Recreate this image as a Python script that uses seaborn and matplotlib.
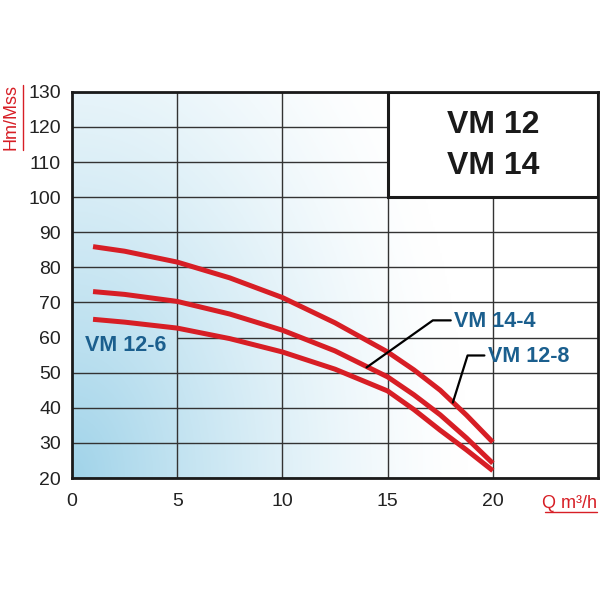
import numpy as np
import pandas as pd
import matplotlib
matplotlib.use("Agg")
import matplotlib.pyplot as plt
import seaborn as sns
from matplotlib.patches import Rectangle
from matplotlib.lines import Line2D

# flow (m3/h) and head (m)
flow = [1, 2.5, 5, 7.5, 10, 12.5, 15, 16.25, 17.5, 18.75, 20]
head_vm12_8 = [85.9, 84.6, 81.5, 77.0, 71.4, 64.2, 55.9, 50.8, 45.0, 37.9, 30.2]
head_vm14_4 = [73.1, 72.3, 70.3, 66.7, 62.1, 56.2, 48.8, 43.7, 38.0, 31.4, 24.2]
head_vm12_6 = [65.2, 64.4, 62.7, 59.7, 55.9, 51.0, 44.8, 39.5, 33.6, 28.0, 22.1]
models = ["VM 12-8", "VM 14-4", "VM 12-6"]

x_ticks = [0, 5, 10, 15, 20]
y_ticks = [20, 30, 40, 50, 60, 70, 80, 90, 100, 110, 120, 130]

sns.set_style("white")
plt.rcParams["font.family"] = ["Liberation Sans", "DejaVu Sans"]

RED = "#d71e25"
BLUE = "#1b5f8e"
GRID = "#333333"

df = pd.DataFrame({
    "Q": flow * 3,
    "H": head_vm12_8 + head_vm14_4 + head_vm12_6,
    "model": [m for m in models for _ in flow],
})

fig = plt.figure(figsize=(6, 6), dpi=100)
ax = fig.add_axes([0.12, 0.2033, 0.8767, 0.6437])
ax.set_xlim(0, 25)
ax.set_ylim(20, 130)

# light blue gradient from bottom-left corner
u, v = np.meshgrid(np.linspace(0, 1, 300), np.linspace(0, 1, 300))
t = np.sqrt((u / 0.75) ** 2 + (v / 1.6) ** 2)
mix = (1 - np.clip(t, 0, 1)) ** 1.4
blue = np.array([160, 211, 233]) / 255
img = 1 - mix[..., None] * (1 - blue)
ax.imshow(img, extent=[0, 25, 20, 130], origin="lower", aspect="auto", zorder=0)

# grid
for x in x_ticks[1:]:
    ax.axvline(x, color=GRID, lw=1.0, zorder=1)
for y in y_ticks:
    if y == 60:
        ax.axhline(y, xmin=0.2, color=GRID, lw=1.0, zorder=1)
    else:
        ax.axhline(y, color=GRID, lw=1.0, zorder=1)

sns.lineplot(data=df, x="Q", y="H", hue="model", palette=[RED] * 3,
             linewidth=3.6, legend=False, ax=ax, zorder=4)
for ln in ax.get_lines():
    ln.set_solid_capstyle("butt")
    ln.set_solid_joinstyle("round")

# title box
ax.add_patch(Rectangle((15, 100), 10, 30, facecolor="white", edgecolor="#1a1a1a",
                       lw=2.2, zorder=3))
ax.text(20, 120.6, "VM 12", ha="center", va="center", fontsize=23,
        fontweight="bold", color="#1a1a1a", zorder=5)
ax.text(20, 108.9, "VM 14", ha="center", va="center", fontsize=23,
        fontweight="bold", color="#1a1a1a", zorder=5)

# curve labels with leaders
ax.plot([18.0, 17.15, 14.0], [64.9, 64.9, 51.5], color="black", lw=1.6, zorder=5)
ax.plot([19.6, 18.8, 18.1], [54.9, 54.9, 41.5], color="black", lw=1.6, zorder=5)
ax.text(18.15, 64.6, "VM 14-4", ha="left", va="center", fontsize=15.5,
        fontweight="bold", color=BLUE, zorder=5)
ax.text(19.75, 54.6, "VM 12-8", ha="left", va="center", fontsize=15.5,
        fontweight="bold", color=BLUE, zorder=5)
ax.text(0.62, 57.8, "VM 12-6", ha="left", va="center", fontsize=15.5,
        fontweight="bold", color=BLUE, zorder=5)

ax.set_xticks(x_ticks)
ax.set_yticks(y_ticks)
ax.tick_params(length=0, labelsize=14, labelcolor="#222222")
ax.tick_params(axis="x", pad=11)
ax.tick_params(axis="y", pad=8)
ax.set_xlabel("")
ax.set_ylabel("")
for s in ax.spines.values():
    s.set_visible(True)
    s.set_color("#1a1a1a")
    s.set_linewidth(2.0)
    s.set_zorder(6)

# axis titles (underlined, red)
fig.text(11 / 600, 1 - 117.5 / 600, "Hm/Mss", rotation=90, ha="center",
         va="center", fontsize=13, color=RED)
fig.add_artist(Line2D([22.7 / 600, 22.7 / 600], [1 - 150 / 600, 1 - 85 / 600],
                      color=RED, lw=1.0))
fig.text(597 / 600, 1 - 508 / 600, "Q m³/h", ha="right", va="baseline",
         fontsize=13, color=RED)
fig.add_artist(Line2D([545 / 600, 597 / 600], [1 - 511.7 / 600, 1 - 511.7 / 600],
                      color=RED, lw=1.0))

fig.savefig("out.png", dpi=100)
